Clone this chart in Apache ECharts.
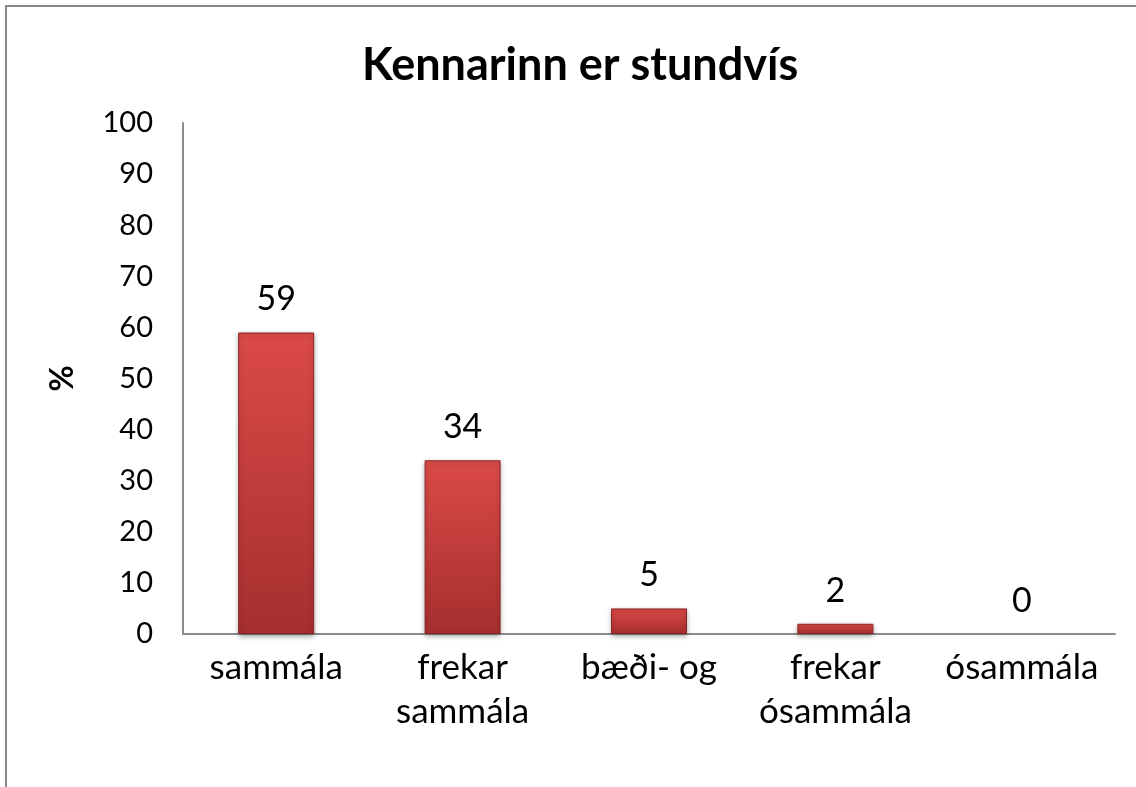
<!DOCTYPE html>
<html>
<head>
<meta charset="utf-8">
<script src="https://cdn.jsdelivr.net/npm/echarts@6/dist/echarts.min.js"></script>
<style>
html,body{margin:0;padding:0;background:#fff;}
#main{width:1136px;height:787px;}
</style>
</head>
<body>
<div id="main"></div>
<script>
// gögn
var categories = ['sammála', 'frekar\nsammála', 'bæði- og', 'frekar\nósammála', 'ósammála'];
var values = [59, 34, 5, 2, 0];
var yTicks = [0, 10, 20, 30, 40, 50, 60, 70, 80, 90, 100];

// súla með gildið 0 fær engan ramma
var barData = values.map(function (v) {
    if (v === 0) {
        return {value: v, itemStyle: {borderWidth: 0, shadowBlur: 0, opacity: 0}};
    }
    return v;
});

var myChart = echarts.init(document.getElementById('main'));
var option = {
    backgroundColor: '#fff',
    textStyle: {fontFamily: 'Lato'},
    title: {
        text: 'Kennarinn er stundvís',
        left: 357,
        top: 38,
        textStyle: {fontFamily: 'Lato', fontSize: 45, fontWeight: 'bold', color: '#000'}
    },
    graphic: [
        {   // rammi um myndina
            type: 'rect',
            shape: {x: 6, y: 6, width: 1300, height: 1000},
            style: {fill: null, stroke: '#888', lineWidth: 2},
            silent: true
        }
    ],
    grid: {left: 183, right: 21, top: 123, bottom: 153},
    xAxis: {
        type: 'category',
        data: categories,
        axisLine: {lineStyle: {color: '#8c8c8c', width: 2}},
        axisTick: {show: false},
        axisLabel: {
            color: '#000', fontSize: 35, lineHeight: 44, margin: 12, interval: 0
        }
    },
    yAxis: {
        type: 'value',
        min: yTicks[0],
        max: yTicks[yTicks.length - 1],
        interval: 10,
        name: '%',
        nameLocation: 'middle',
        nameGap: 104,
        nameTextStyle: {fontSize: 32, fontWeight: 'bold', color: '#000'},
        axisLine: {show: true, lineStyle: {color: '#8c8c8c', width: 2}},
        axisTick: {show: false},
        splitLine: {show: false},
        axisLabel: {color: '#000', fontSize: 29, margin: 30}
    },
    series: [
        {
            type: 'bar',
            data: barData,
            barWidth: 76,
            itemStyle: {
                color: new echarts.graphic.LinearGradient(0, 0, 0, 1, [
                    {offset: 0, color: '#db4a47'},
                    {offset: 1, color: '#a52f2e'}
                ]),
                borderColor: '#8a2624',
                borderWidth: 1,
                shadowColor: 'rgba(0,0,0,0.35)',
                shadowBlur: 5,
                shadowOffsetY: 2
            },
            label: {
                show: true,
                position: 'top',
                distance: 16,
                color: '#000',
                fontSize: 34,
                opacity: 1
            }
        }
    ]
};
myChart.setOption(option);
</script>
</body>
</html>
